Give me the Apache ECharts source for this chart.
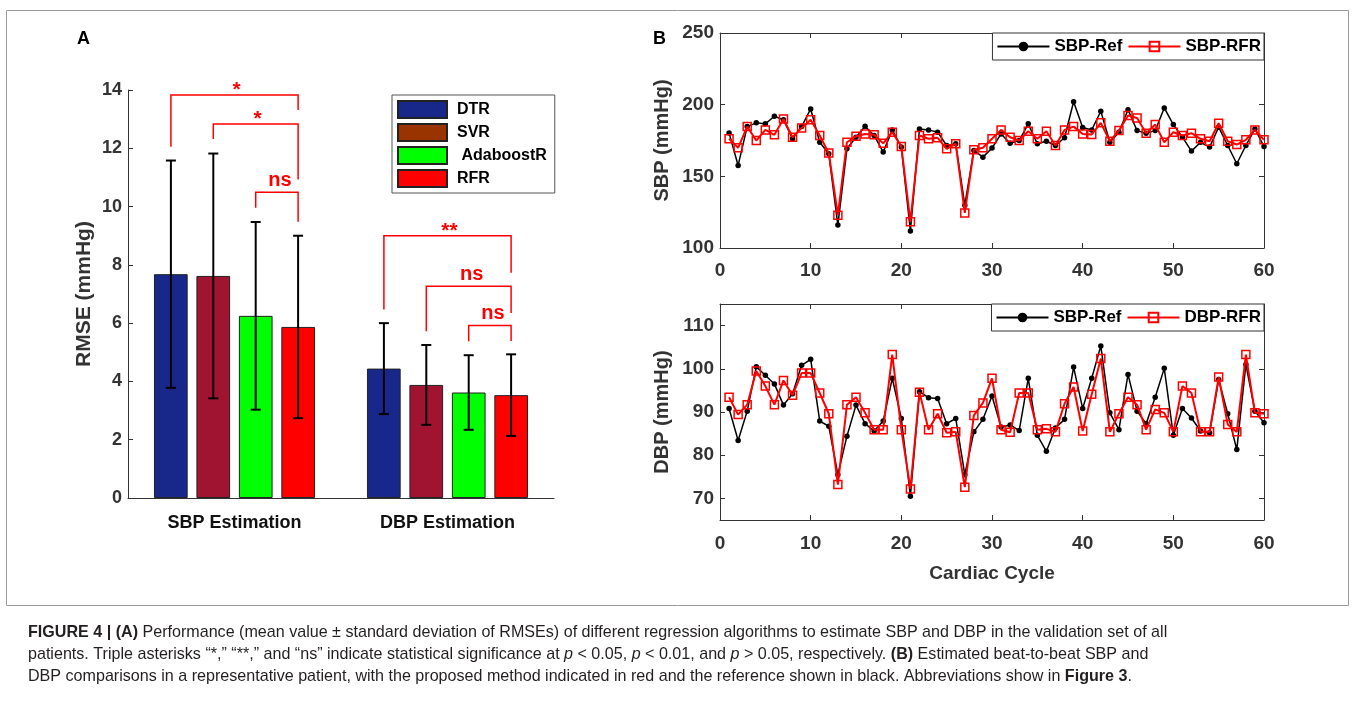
<!DOCTYPE html>
<html>
<head>
<meta charset="utf-8">
<script src="https://cdn.jsdelivr.net/npm/echarts@6/dist/echarts.min.js"></script>
<style>
  html, body { margin: 0; padding: 0; background: #fff; }
  #chart { width: 1355px; height: 701px; }
</style>
</head>
<body>
<div id="chart"></div>
<script>
// ---- panel A: RMSE of each regressor (mean ± sd) ----
const groups = ['SBP Estimation', 'DBP Estimation']
const models = ['DTR', 'SVR', 'AdaboostR', 'RFR']
const dtrMean = [7.68, 4.44]
const svrMean = [7.62, 3.88]
const adaMean = [6.25, 3.62]
const rfrMean = [5.87, 3.53]
const dtrSd = [3.9, 1.56]
const svrSd = [4.2, 1.37]
const adaSd = [3.22, 1.28]
const rfrSd = [3.13, 1.4]
const rmseTicks = [0, 2, 4, 6, 8, 10, 12, 14]

// significance brackets (group, from bar, to bar, heights, label)
const sigGroup = [0, 0, 0, 1, 1, 1]
const sigFrom = [0, 1, 2, 0, 1, 2]
const sigTo = [3, 3, 3, 3, 3, 3]
const sigTop = [13.83, 12.83, 10.49, 9.0, 7.27, 5.92]
const sigLeftEnd = [12.05, 12.32, 9.96, 6.47, 5.72, 5.38]
const sigRightEnd = [13.31, 10.93, 9.48, 7.73, 6.35, 5.39]
const sigLabel = ['*', '*', 'ns', '**', 'ns', 'ns']

// ---- panel B: beat-to-beat SBP / DBP ----
const cycle = []
for (let i = 1; i <= 60; i++) cycle.push(i)
const sbpRef = [180.3, 157.6, 184.7, 187.3, 186.6, 191.9, 189.4, 176.2, 184.7, 197, 173.8, 165.7, 116, 169.2, 177.3, 185, 178.5, 166.9, 182.4, 170.4,
  111.8, 183.1, 182.4, 180.8, 171.5, 172.7, 129.9, 168.1, 163.4, 169.7, 179.6, 173.1, 175, 186.6, 172.7, 174.5, 171.5, 176.9, 202, 184,
  182.4, 195.4, 173.8, 180.8, 196.5, 181.9, 180.1, 181.9, 197.7, 186.1, 177.3, 167.6, 173.8, 170.4, 184.3, 171.5, 158.8, 171.5, 183.1, 170.8]
const sbpRfr = [176.2, 169.9, 184.7, 175, 182.4, 179, 190, 177.3, 183.8, 189.4, 178.5, 166.2, 122.9, 173.8, 178, 179.6, 179, 173, 180.8, 170.8,
  118.3, 178.5, 176.2, 176.9, 169.2, 172.7, 124.5, 168.5, 169.9, 176.2, 182.4, 177.3, 175, 181.5, 176.2, 181.5, 171.5, 182.4, 184.7, 179.6,
  179.2, 187.3, 174.5, 181.9, 192.4, 190.7, 180.1, 186.1, 173.8, 180.8, 178.5, 180.1, 176.2, 174.5, 187, 174.5, 172.2, 175.5, 182.4, 175.5]
const dbpRef = [90.8, 83.4, 90.2, 100.5, 98.5, 96.5, 91.6, 94.2, 100.8, 102.2, 87.9, 86.7, 75.5, 84.4, 91.6, 87.3, 85.6, 87.9, 97.8, 88.5,
  70.5, 94.7, 93.3, 93.1, 87.3, 88.5, 75.5, 85.4, 88.3, 93.7, 86.5, 87, 85.7, 97.8, 84.6, 80.9, 86.3, 88.3, 100.4, 90.8,
  97.8, 105.3, 89.8, 85.9, 98.7, 90.2, 87.3, 93.4, 100.1, 84.6, 90.8, 88.6, 85.6, 85.2, 97.5, 89.6, 81.3, 101, 90.2, 87.5]
const dbpRfr = [93.4, 89.4, 91.7, 99.5, 96, 91.7, 97.3, 93.9, 99, 99, 94.4, 89.6, 73.2, 91.7, 93.4, 89.8, 85.9, 85.9, 103.3, 85.9,
  72.2, 94.6, 85.9, 89.6, 85.2, 85.4, 72.6, 89.2, 92.1, 97.8, 85.9, 85.3, 94.4, 94.4, 85.9, 86.1, 85.4, 91.9, 95.8, 85.6,
  94.1, 102.4, 85.4, 89.6, 93.4, 91.7, 85.9, 90.6, 89.8, 85.4, 96, 94.4, 85.4, 85.4, 98.1, 87.1, 85.4, 103.3, 89.8, 89.6]
const dbpTicks = [70, 80, 90, 100, 110]

const FONT = 'Liberation Sans, Arial, sans-serif'
const AXIS = '#333'
const barColors = ['#17288a', '#a11431', '#00ff00', '#ff0000']
const barW = 33.7
const barGapPx = 8.7

const pair = (ys) => ys.map((v, i) => [cycle[i], v])

// error bars, drawn at each bar centre
const means = [dtrMean, svrMean, adaMean, rfrMean]
const sds = [dtrSd, svrSd, adaSd, rfrSd]
const errData = []
models.forEach((m, k) => {
  groups.forEach((g, gi) => errData.push([gi, k, means[k][gi], sds[k][gi]]))
})

const barCenter = (api, g, k) => api.coord([g, 0])[0] + (k - 1.5) * (barW + barGapPx)

function renderErr(params, api) {
  const g = api.value(0), k = api.value(1), m = api.value(2), s = api.value(3)
  const cx = barCenter(api, g, k)
  const yHi = api.coord([g, m + s])[1]
  const yLo = api.coord([g, m - s])[1]
  const st = { stroke: '#000', lineWidth: 2 }
  return {
    type: 'group',
    children: [
      { type: 'line', shape: { x1: cx, y1: yHi, x2: cx, y2: yLo }, style: st },
      { type: 'line', shape: { x1: cx - 5, y1: yHi, x2: cx + 5, y2: yHi }, style: st },
      { type: 'line', shape: { x1: cx - 5, y1: yLo, x2: cx + 5, y2: yLo }, style: st }
    ]
  }
}

const sigData = sigGroup.map((g, i) => [g, sigFrom[i], sigTo[i], sigTop[i], sigLeftEnd[i], sigRightEnd[i]])

function renderSig(params, api) {
  const g = api.value(0)
  const x1 = barCenter(api, g, api.value(1))
  const x2 = barCenter(api, g, api.value(2))
  const yTop = api.coord([g, api.value(3)])[1]
  const yL = api.coord([g, api.value(4)])[1]
  const yR = api.coord([g, api.value(5)])[1]
  const lab = sigLabel[params.dataIndex]
  const isStar = lab !== 'ns'
  return {
    type: 'group',
    children: [
      {
        type: 'polyline',
        shape: { points: [[x1, yL], [x1, yTop], [x2, yTop], [x2, yR]] },
        style: { stroke: '#ff0000', lineWidth: 1.5, fill: null }
      },
      {
        // asterisks sit high in their em box, so drop them closer to the bracket
        type: 'text',
        style: {
          text: lab, x: (x1 + x2) / 2 + (isStar ? 2 : 3), y: isStar ? yTop + 6 : yTop - 2,
          align: 'center', verticalAlign: 'bottom',
          font: 'bold ' + (isStar ? 21 : 20) + 'px ' + FONT,
          fill: '#ff0000'
        }
      }
    ]
  }
}

const valueAxisBase = (grid, pos, min, max, interval, showLabel) => ({
  type: 'value', gridIndex: grid, position: pos, min, max, interval,
  axisLine: { show: true, onZero: false, lineStyle: { color: AXIS, width: 1 } },
  axisTick: { show: true, inside: true, length: 5, lineStyle: { color: AXIS } },
  axisLabel: { show: showLabel, color: AXIS, fontFamily: FONT, fontWeight: 'bold', fontSize: 19, margin: 13 },
  splitLine: { show: false }
})

const chart = echarts.init(document.getElementById('chart'))

const sbpX = valueAxisBase(1, 'bottom', 0, 60, 10, true)
const sbpXTop = valueAxisBase(1, 'top', 0, 60, 10, false)
const dbpX = valueAxisBase(2, 'bottom', 0, 60, 10, true)
dbpX.name = 'Cardiac Cycle'
dbpX.nameLocation = 'middle'
dbpX.nameGap = 44
dbpX.nameTextStyle = { color: AXIS, fontFamily: FONT, fontWeight: 'bold', fontSize: 19 }
dbpX.axisLabel.margin = 14
const dbpXTop = valueAxisBase(2, 'top', 0, 60, 10, false)

const sbpY = valueAxisBase(1, 'left', 100, 250, 50, true)
sbpY.axisLabel.margin = 6
sbpY.name = 'SBP (mmHg)'
sbpY.nameLocation = 'middle'
sbpY.nameGap = 48
sbpY.nameTextStyle = { color: AXIS, fontFamily: FONT, fontWeight: 'bold', fontSize: 20 }
const sbpYRight = valueAxisBase(1, 'right', 100, 250, 50, false)

const dbpY = valueAxisBase(2, 'left', 65, 115, null, true)
delete dbpY.interval
dbpY.axisLabel.margin = 6
dbpY.axisLabel.customValues = dbpTicks
dbpY.axisTick.customValues = dbpTicks
dbpY.name = 'DBP (mmHg)'
dbpY.nameLocation = 'middle'
dbpY.nameGap = 48
dbpY.nameTextStyle = { color: AXIS, fontFamily: FONT, fontWeight: 'bold', fontSize: 20 }
const dbpYRight = valueAxisBase(2, 'right', 65, 115, null, false)
delete dbpYRight.interval
dbpYRight.axisTick.customValues = dbpTicks

const rmseY = valueAxisBase(0, 'left', rmseTicks[0], rmseTicks[rmseTicks.length - 1], 2, true)
rmseY.axisLabel.margin = 6
rmseY.axisLabel.fontSize = 18
rmseY.name = 'RMSE (mmHg)'
rmseY.nameLocation = 'middle'
rmseY.nameGap = 33
rmseY.nameTextStyle = { color: AXIS, fontFamily: FONT, fontWeight: 'bold', fontSize: 21 }

const lineLegend = (top, names) => ({
  right: 91, top, orient: 'horizontal',
  data: names,
  itemWidth: 52, itemHeight: 12, itemGap: 5,
  padding: [5, 3, 5, 4],
  backgroundColor: '#fff', borderColor: '#333', borderWidth: 1,
  textStyle: { color: '#000', fontFamily: FONT, fontWeight: 'bold', fontSize: 17 },
  selectedMode: false
})

const refSeries = (name, x, y, data) => ({
  name, type: 'line', xAxisIndex: x, yAxisIndex: y, data,
  symbol: 'circle', symbolSize: 5.5,
  itemStyle: { color: '#000' },
  lineStyle: { color: '#000', width: 1.5 },
  z: 3
})
const rfrSeries = (name, x, y, data) => ({
  name, type: 'line', xAxisIndex: x, yAxisIndex: y, data,
  symbol: 'rect', symbolSize: 8,
  itemStyle: { color: 'rgba(255,255,255,0)', borderColor: '#ff0000', borderWidth: 1.5 },
  lineStyle: { color: '#ff0000', width: 2 },
  z: 4
})

const captionRich = {
  b: { fontWeight: 'bold', fontSize: 16.1, fontFamily: FONT, fill: '#231f20' },
  i: { fontStyle: 'italic', fontSize: 16.1, fontFamily: FONT, fill: '#231f20' }
}
const captionLines = [
  '{b|FIGURE 4 | (A)} Performance (mean value ± standard deviation of RMSEs) of different regression algorithms to estimate SBP and DBP in the validation set of all',
  'patients. Triple asterisks “*,” “**,” and “ns” indicate statistical significance at {i|p} < 0.05, {i|p} < 0.01, and {i|p} > 0.05, respectively. {b|(B)} Estimated beat-to-beat SBP and',
  'DBP comparisons in a representative patient, with the proposed method indicated in red and the reference shown in black. Abbreviations show in {b|Figure 3}.'
]

chart.setOption({
  animation: false,
  backgroundColor: '#fff',
  grid: [
    { left: 128, top: 90, width: 426, height: 408 },
    { left: 720, top: 33, width: 544, height: 215 },
    { left: 720, top: 304, width: 544, height: 216 }
  ],
  xAxis: [
    {
      type: 'category', gridIndex: 0, data: groups,
      axisLine: { lineStyle: { color: AXIS } },
      axisTick: { show: false },
      axisLabel: { color: '#111', fontFamily: FONT, fontWeight: 'bold', fontSize: 18, margin: 16 }
    },
    sbpX, sbpXTop, dbpX, dbpXTop
  ],
  yAxis: [rmseY, sbpY, sbpYRight, dbpY, dbpYRight],
  legend: [
    {
      left: 392, top: 95, orient: 'vertical', icon: 'rect',
      data: models.map((m) => m === 'SVR' ? { name: m, itemStyle: { color: '#993300' } } : m),
      formatter: (n) => n === 'AdaboostR' ? ' ' + n : n,
      itemWidth: 49, itemHeight: 17, itemGap: 4,
      padding: [5, 8, 5, 5],
      borderColor: '#555', borderWidth: 1,
      textStyle: { color: '#000', fontFamily: FONT, fontWeight: 'bold', fontSize: 16, lineHeight: 17, padding: [0, 0, 0, 5] },
      selectedMode: false
    },
    lineLegend(33, ['SBP-Ref', 'SBP-RFR']),
    lineLegend(304, ['SBP-Ref', 'DBP-RFR'])
  ],
  series: [
    ...models.map((m, k) => ({
      name: m, type: 'bar', xAxisIndex: 0, yAxisIndex: 0,
      data: means[k], barWidth: barW, barGap: '26%',
      itemStyle: { color: barColors[k], borderColor: '#222', borderWidth: 1 }
    })),
    {
      type: 'custom', xAxisIndex: 0, yAxisIndex: 0, renderItem: renderErr,
      data: errData, encode: { x: 0, y: 2 }, z: 5, silent: true
    },
    {
      type: 'custom', xAxisIndex: 0, yAxisIndex: 0, renderItem: renderSig,
      data: sigData, encode: { x: 0, y: 3 }, z: 5, silent: true
    },
    refSeries('SBP-Ref', 1, 1, pair(sbpRef)),
    rfrSeries('SBP-RFR', 1, 1, pair(sbpRfr)),
    refSeries('SBP-Ref', 3, 3, pair(dbpRef)),
    rfrSeries('DBP-RFR', 3, 3, pair(dbpRfr))
  ],
  graphic: [
    {
      type: 'rect', silent: true, z: -1,
      shape: { x: 6.5, y: 10.5, width: 1342, height: 595 },
      style: { fill: null, stroke: '#9a9a9a', lineWidth: 1 }
    },
    { type: 'text', x: 77, y: 39, style: { text: 'A', font: 'bold 18px ' + FONT, fill: '#000', verticalAlign: 'middle' } },
    { type: 'text', x: 653, y: 39, style: { text: 'B', font: 'bold 18px ' + FONT, fill: '#000', verticalAlign: 'middle' } },
    ...captionLines.map((t, i) => ({
      type: 'text', x: 28, y: 633 + i * 22,
      style: { text: t, rich: captionRich, font: '16.1px ' + FONT, fill: '#231f20', verticalAlign: 'middle' }
    }))
  ]
})

window.addEventListener('resize', () => {
  chart.resize()
})
</script>
</body>
</html>
